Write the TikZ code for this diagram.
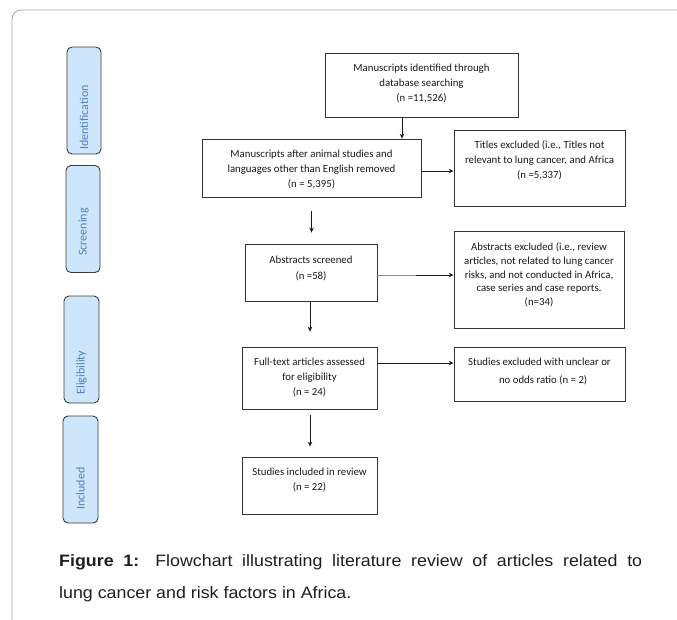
\documentclass[tikz,border=0pt]{standalone}
\usepackage{fontspec}
\setmainfont{Carlito}
\newfontfamily\capfont[FakeStretch=1.08]{Liberation Sans}
\usetikzlibrary{arrows.meta,calc}
\definecolor{framecol}{HTML}{A8A8A8}
\definecolor{sidefill}{HTML}{CDE6FB}
\definecolor{sidetextcol}{HTML}{4F81BD}
\definecolor{sideborder}{HTML}{3A3A3A}
\definecolor{captext}{HTML}{1E1E1E}
\begin{document}
\begin{tikzpicture}[x=1pt,y=-1pt,
 box/.style={draw=black!80, line width=0.8pt, inner sep=0pt, fill=white},
 btext/.style={align=center, inner sep=0pt, anchor=north, font=\fontsize{10.8}{15}\selectfont, text=black!90},
 sidebox/.style={draw=sideborder, fill=sidefill, line width=0.9pt, rounded corners=5pt, inner sep=0pt},
 sidetext/.style={rotate=90, text=sidetextcol, font=\fontsize{12}{14}\selectfont, inner sep=0pt},
 arr/.style={line width=0.8pt, draw=black!90, -{Stealth[length=5pt,width=4.5pt]}},
]
\useasboundingbox (0,0) rectangle (677,619);
\draw[framecol, line width=0.9pt, rounded corners=9pt] (12,630) -- (12,10) -- (690,10);

% side labels
\node[sidebox, minimum width=34pt, minimum height=107pt] (sI) at (84,100.5) {};
\node[sidetext] (tI) at (84,117.5) {Identification};
\node[sidebox, minimum width=34pt, minimum height=107pt] (sS) at (83,219) {};
\node[sidetext] (tS) at (83.5,232) {Screening};
\node[sidebox, minimum width=35pt, minimum height=107pt] (sE) at (81.5,349.5) {};
\node[sidetext] (tE) at (81.5,372.5) {Eligibility};
\node[sidebox, minimum width=35pt, minimum height=107pt] (sN) at (80.5,469.5) {};
\node[sidetext] (tN) at (80.5,488.5) {Included};

% boxes
\node[box, minimum width=193pt, minimum height=64pt] (b1) at (421.5,85) {};
\node[box, minimum width=219pt, minimum height=58pt] (b2) at (311.5,168) {};
\node[box, minimum width=171pt, minimum height=76pt] (b3) at (539.5,168) {};
\node[box, minimum width=132pt, minimum height=57pt] (b4) at (311,272.5) {};
\node[box, minimum width=170pt, minimum height=97pt] (b5) at (539,279.5) {};
\node[box, minimum width=135pt, minimum height=62pt] (b6) at (309.5,378) {};
\node[box, minimum width=171pt, minimum height=54pt] (b7) at (539.5,374) {};
\node[box, minimum width=135pt, minimum height=57pt] (b8) at (309.5,485.5) {};

\node[btext] (t1) at ([yshift=-11pt]b1.north) {Manuscripts identified through\\database searching\\(n =11,526)};
\node[btext] (t2) at ([yshift=-11pt]b2.north) {Manuscripts after animal studies and\\languages other than English removed\\(n = 5,395)};
\node[btext] (t3) at ([yshift=-11pt]b3.north) {Titles excluded (i.e., Titles not\\relevant to lung cancer, and Africa\\(n =5,337)};
\node[btext, font=\fontsize{10.8}{16}\selectfont] (t4) at ([yshift=-12pt]b4.north) {Abstracts screened\\(n =58)};
\node[btext, font=\fontsize{10.8}{13.7}\selectfont] (t5) at ([yshift=-12pt]b5.north) {Abstracts excluded (i.e., review\\articles, not related to lung cancer\\risks, and not conducted in Africa,\\case series and case reports.\\(n=34)};
\node[btext] (t6) at ([yshift=-11pt]b6.north) {Full-text articles assessed\\for eligibility\\(n = 24)};
\node[btext, font=\fontsize{10.8}{18}\selectfont] (t7) at ([yshift=-11pt]b7.north) {Studies excluded with unclear or\\\ \ \ no odds ratio (n = 2)};
\node[btext] (t8) at ([yshift=-11pt]b8.north) {Studies included in review\\(n = 22)};

% connectors
\coordinate (cx1) at (402,0);
\draw[arr] (b1.south -| cx1) -- (b2.north -| cx1);
\coordinate (cy2) at (0,171);
\draw[arr] (b2.east |- cy2) -- (b3.west |- cy2);
\draw[arr, shorten <=14pt, shorten >=11pt] (b2.south) -- (b4.north -| b2.south);
\coordinate (cy4) at (0,275);
\coordinate (gm) at (416,275);
\draw[line width=0.8pt, black!45] (b4.east |- cy4) -- (gm);
\draw[arr] (gm) -- (b5.west |- cy4);
\coordinate (cx6) at (310,0);
\draw[arr, shorten >=15pt] (b4.south -| cx6) -- (b6.north -| cx6);
\coordinate (cy6) at (0,363);
\draw[arr] (b6.east |- cy6) -- (b7.west |- cy6);
\draw[arr, shorten <=6pt, shorten >=10pt] (b6.south -| cx6) -- (b8.north -| cx6);

% caption
\node[anchor=base west, inner sep=0pt, text=captext] (cap) at (59,566.5)
 {\parbox[t]{583pt}{\capfont\fontsize{16.5}{31.7}\selectfont\textbf{Figure 1:} Flowchart illustrating literature review of articles related to\linebreak lung cancer and risk factors in Africa.}};
\end{tikzpicture}
\end{document}
